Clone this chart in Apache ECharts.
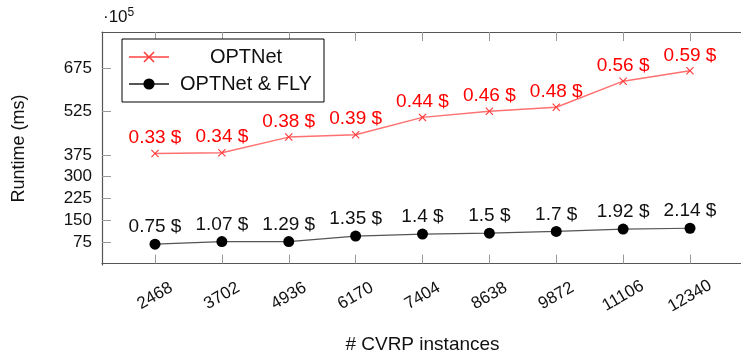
<!DOCTYPE html>
<html>
<head>
<meta charset="utf-8">
<script src="https://cdn.jsdelivr.net/npm/echarts@6/dist/echarts.min.js"></script>
<style>
  html, body { margin: 0; padding: 0; background: #fff; }
  #chart { width: 741px; height: 353px; }
</style>
</head>
<body>
<div id="chart"></div>
<script>
// Number of CVRP instances (x positions)
const instances = [2468, 3702, 4936, 6170, 7404, 8638, 9872, 11106, 12340];
// Runtime in units of 1e5 ms
const optnetRuntime = [380, 383, 437, 445, 505, 526, 540, 630, 666];
const flyRuntime = [67, 76, 76, 95, 102, 105, 111, 119, 122];
// Cost annotations (dollars)
const optnetCost = ['0.33', '0.34', '0.38', '0.39', '0.44', '0.46', '0.48', '0.56', '0.59'];
const flyCost = ['0.75', '1.07', '1.29', '1.35', '1.4', '1.5', '1.7', '1.92', '2.14'];
// Labelled y ticks
const yTicks = [75, 150, 225, 300, 375, 525, 675];

const FONT = 'Liberation Sans';
const crossPath = 'path://M0,1L1,0L5,4L9,0L10,1L6,5L10,9L9,10L5,6L1,10L0,9L4,5Z';

const chart = echarts.init(document.getElementById('chart'), null, { renderer: 'canvas' });

const xCommon = {
  type: 'value',
  min: 1490,
  max: 13318,
  splitLine: { show: false },
  axisLine: { show: true, lineStyle: { color: '#555', width: 1.2 } },
  axisTick: { show: true, inside: true, length: 9, customValues: instances, lineStyle: { color: '#999', width: 1 } }
};

chart.setOption({
  animation: false,
  textStyle: { fontFamily: FONT },
  grid: { left: 102, top: 32, width: 641, height: 233, containLabel: false, outerBoundsMode: 'none' },
  legend: {
    left: 122,
    top: 39,
    orient: 'vertical',
    itemWidth: 40,
    itemHeight: 14,
    itemGap: 3,
    padding: [6, 6, 6, 6],
    borderColor: '#000',
    borderWidth: 1,
    backgroundColor: '#fff',
    data: ['OPTNet', 'OPTNet & FLY'],
    formatter: name => '{t|' + name + '}',
    textStyle: {
      fontFamily: FONT,
      rich: { t: { width: 144, height: 24, lineHeight: 24, align: 'center', fontSize: 20, color: '#111', fontFamily: FONT } }
    }
  },
  xAxis: [
    Object.assign({}, xCommon, {
      position: 'bottom',
      axisLabel: {
        customValues: instances,
        formatter: v => String(v),
        rotate: 30,
        align: 'center',
        verticalAlign: 'middle',
        margin: 31,
        fontSize: 17,
        color: '#111',
        fontFamily: FONT
      },
      name: '# CVRP instances',
      nameLocation: 'middle',
      nameGap: 70,
      nameTextStyle: { fontSize: 19, color: '#111', fontFamily: FONT }
    }),
    Object.assign({}, xCommon, {
      position: 'top',
      axisLabel: { show: false, customValues: instances }
    })
  ],
  yAxis: {
    type: 'value',
    min: -5,
    max: 800,
    splitLine: { show: false },
    axisLine: { show: true, lineStyle: { color: '#555', width: 1.2 } },
    axisTick: { show: true, inside: true, length: 9, customValues: yTicks, lineStyle: { color: '#999', width: 1 } },
    axisLabel: { customValues: yTicks, formatter: v => String(v), margin: 10, fontSize: 17, color: '#111', fontFamily: FONT },
    name: 'Runtime (ms)',
    nameLocation: 'middle',
    nameGap: 74,
    nameRotate: 90,
    nameTextStyle: { fontSize: 18, color: '#111', fontFamily: FONT }
  },
  graphic: [{
    type: 'text',
    left: 103,
    top: 7,
    style: {
      text: '·10{s|5}',
      fontSize: 17,
      fontFamily: FONT,
      fill: '#111',
      rich: { s: { fontSize: 12, verticalAlign: 'top', padding: [0, 0, 8, 0], fontFamily: FONT, fill: '#111' } }
    }
  }],
  series: [
    {
      name: 'OPTNet',
      type: 'line',
      xAxisIndex: 0,
      data: instances.map((x, i) => [x, optnetRuntime[i]]),
      symbol: crossPath,
      symbolSize: 8,
      itemStyle: { color: '#ff3b3b' },
      lineStyle: { color: '#ff7070', width: 1.4 },
      label: {
        show: true,
        position: 'top',
        distance: 2,
        formatter: p => optnetCost[p.dataIndex] + ' $',
        color: '#ff0000',
        fontSize: 19,
        fontFamily: FONT
      }
    },
    {
      name: 'OPTNet & FLY',
      type: 'line',
      xAxisIndex: 0,
      data: instances.map((x, i) => [x, flyRuntime[i]]),
      symbol: 'circle',
      symbolSize: 11,
      itemStyle: { color: '#000' },
      lineStyle: { color: '#555', width: 1.2 },
      label: {
        show: true,
        position: 'top',
        distance: 2,
        formatter: p => flyCost[p.dataIndex] + ' $',
        color: '#111',
        fontSize: 19,
        fontFamily: FONT
      }
    }
  ]
});
</script>
</body>
</html>
